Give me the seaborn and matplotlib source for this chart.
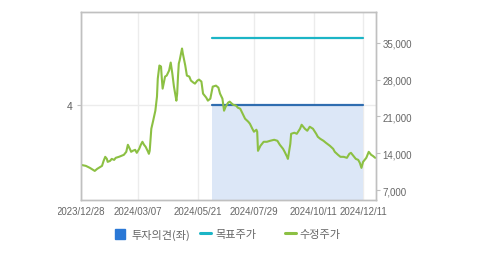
import matplotlib
matplotlib.use("Agg")
import matplotlib.pyplot as plt
import matplotlib.dates as mdates
from matplotlib.lines import Line2D
from matplotlib.transforms import Bbox
import seaborn as sns
import pandas as pd

# ---------------- data ----------------
price_dates = [
    "2023-12-28", "2024-01-03", "2024-01-08", "2024-01-12", "2024-01-14", "2024-01-17", "2024-01-21",
    "2024-01-23", "2024-01-25", "2024-01-27", "2024-01-29", "2024-01-30", "2024-02-02", "2024-02-04",
    "2024-02-07", "2024-02-09", "2024-02-13", "2024-02-16", "2024-02-19", "2024-02-22", "2024-02-24",
    "2024-02-27", "2024-02-28", "2024-03-01", "2024-03-04", "2024-03-06", "2024-03-09", "2024-03-11",
    "2024-03-13", "2024-03-15", "2024-03-17", "2024-03-20", "2024-03-21", "2024-03-22", "2024-03-24",
    "2024-03-26", "2024-03-29", "2024-03-31", "2024-04-01", "2024-04-03", "2024-04-05", "2024-04-06",
    "2024-04-07", "2024-04-10", "2024-04-12", "2024-04-15", "2024-04-17", "2024-04-19", "2024-04-21",
    "2024-04-24", "2024-04-25", "2024-04-26", "2024-04-27", "2024-04-28", "2024-05-01", "2024-05-02",
    "2024-05-05", "2024-05-07", "2024-05-10", "2024-05-12", "2024-05-15", "2024-05-17", "2024-05-20",
    "2024-05-22", "2024-05-25", "2024-05-27", "2024-05-31", "2024-06-02", "2024-06-05", "2024-06-07",
    "2024-06-08", "2024-06-12", "2024-06-15", "2024-06-17", "2024-06-20", "2024-06-22", "2024-06-24",
    "2024-06-27", "2024-06-29", "2024-07-03", "2024-07-07", "2024-07-09", "2024-07-12", "2024-07-15",
    "2024-07-18", "2024-07-22", "2024-07-24", "2024-07-27", "2024-07-29", "2024-08-01", "2024-08-02",
    "2024-08-03", "2024-08-06", "2024-08-10", "2024-08-14", "2024-08-18", "2024-08-23", "2024-08-27",
    "2024-08-30", "2024-09-03", "2024-09-05", "2024-09-08", "2024-09-09", "2024-09-12", "2024-09-13",
    "2024-09-17", "2024-09-20", "2024-09-24", "2024-09-26", "2024-09-30", "2024-10-03", "2024-10-06",
    "2024-10-10", "2024-10-14", "2024-10-16", "2024-10-19", "2024-10-23", "2024-10-26", "2024-10-31",
    "2024-11-04", "2024-11-06", "2024-11-10", "2024-11-13", "2024-11-17", "2024-11-21", "2024-11-24",
    "2024-11-26", "2024-11-29", "2024-12-02", "2024-12-05", "2024-12-07", "2024-12-09", "2024-12-11",
    "2024-12-15", "2024-12-18", "2024-12-21", "2024-12-23", "2024-12-26",
]
price_values = [
    11780, 11590, 11210, 10830, 10630, 11020, 11400,
    11590, 12540, 13310, 12920, 12350, 12540, 12920,
    12730, 13120, 13310, 13500, 13690, 14260, 15600,
    14640, 14260, 14450, 14640, 14070, 14830, 15600,
    16170, 15600, 15210, 14260, 13880, 14450, 18650,
    19980, 22080, 24750, 28190, 30670, 30480, 28190,
    26280, 28570, 28760, 29720, 31240, 29140, 26660,
    23990, 25330, 28570, 31050, 31620, 33910, 32960,
    30670, 28760, 28570, 27810, 27430, 27230, 27810,
    28000, 27620, 25330, 24560, 23990, 24370, 25900,
    26660, 26850, 26470, 25330, 24370, 22080, 22850,
    23610, 23800, 23230, 23040, 22660, 22460, 21510,
    20560, 19980, 19600, 18650, 18080, 18460, 18080,
    14450, 15400, 16170, 16170, 16360, 16550, 16360,
    15600, 14830, 14260, 13310, 12920, 15790, 17690,
    17890, 17690, 18650, 19410, 18650, 18270, 19030,
    18650, 17690, 17120, 16740, 16360, 15980, 15400,
    14830, 14260, 13690, 13310, 13310, 13120, 13880,
    14070, 13500, 12920, 12730, 12160, 11210, 12350,
    13120, 14260, 13690, 13500, 13120,
]
opinion_dates = ["2024-06-07", "2024-12-11"]
opinion_values = [4, 4]
target_dates = ["2024-06-07", "2024-12-11"]
target_values = [36000, 36000]

xtick_dates = ["2023-12-28", "2024-03-07", "2024-05-21", "2024-07-29", "2024-10-11", "2024-12-11"]
xtick_labels = ["2023/12/28", "2024/03/07", "2024/05/21", "2024/07/29", "2024/10/11", "2024/12/11"]
right_ticks = [7000, 14000, 21000, 28000, 35000]
right_labels = ["7,000", "14,000", "21,000", "28,000", "35,000"]
left_ticks = [4]
legend_labels = ["투자의견(좌)", "목표주가", "수정주가"]

# ---------------- style ----------------
sns.set_theme(style="white")
plt.rcParams["font.family"] = ["Noto Sans CJK KR", "DejaVu Sans"]

C_GREEN = "#8cc043"
C_CYAN = "#1cb5c6"
C_BLUE = "#2f6db0"
C_FILL = "#dce7f7"
C_SQUARE = "#2a78d6"
C_SPINE = "#c0c0c0"
C_GRID = "#ececec"
C_TEXT = "#666666"

W, H = 479, 255
price_df = pd.DataFrame({"date": pd.to_datetime(price_dates), "price": price_values})
op_df = pd.DataFrame({"date": pd.to_datetime(opinion_dates), "op": opinion_values})
tg_df = pd.DataFrame({"date": pd.to_datetime(target_dates), "target": target_values})

fig = plt.figure(figsize=(W / 100, H / 100), dpi=100)
ax = fig.add_axes([81 / W, 1 - 201 / H, (376 - 81) / W, (201 - 13) / H])
ax2 = ax.twinx()

# left axis: opinion with shaded area
ax.fill_between(op_df["date"], 0, op_df["op"], color=C_FILL, linewidth=0, zorder=1)
sns.lineplot(data=op_df, x="date", y="op", ax=ax, color=C_BLUE, linewidth=1.6, zorder=3)
ax.set_ylim(0, 7.92)
ax.set_yticks(left_ticks)
ax.set_yticklabels([str(v) for v in left_ticks])

# right axis: target price and adjusted price
sns.lineplot(data=tg_df, x="date", y="target", ax=ax2, color=C_CYAN, linewidth=1.6)
sns.lineplot(data=price_df, x="date", y="price", ax=ax2, color=C_GREEN, linewidth=1.5)
ax2.set_ylim(5100, 40850)
ax2.set_yticks(right_ticks)
ax2.set_yticklabels(right_labels)

xlim = (mdates.date2num(pd.Timestamp("2023-12-28")), mdates.date2num(pd.Timestamp("2024-12-27")))
ax.set_xlim(*xlim)
ax2.set_xlim(*xlim)
ax.set_xticks([mdates.date2num(pd.Timestamp(d)) for d in xtick_dates])
ax.set_xticklabels(xtick_labels)

for a in (ax, ax2):
    a.set_xlabel("")
    a.set_ylabel("")
    for s in a.spines.values():
        s.set_color(C_SPINE)
        s.set_linewidth(1.0)
    a.tick_params(axis="both", colors=C_SPINE, labelcolor=C_TEXT, labelsize=7,
                  length=3, width=0.8, pad=1.5)
ax.tick_params(axis="y", labelsize=7.5, pad=3)

ax.grid(True, axis="both", color=C_GRID, linewidth=1.0)
ax.set_axisbelow(True)
ax2.grid(False)

for lbl in ax.get_xticklabels() + ax2.get_yticklabels():
    lbl.set_fontfamily(["Liberation Sans", "DejaVu Sans"])

# first x label is cut by the chart container on the left
first = ax.get_xticklabels()[0]
first.set_clip_box(Bbox.from_extents(58, 0, W, H))
first.set_clip_on(True)

# legend: three separate items placed like the reference
def add_item(handle, label, x_px, hl, pad):
    fig.legend([handle], [label], loc="center left", bbox_to_anchor=(x_px / W, 1 - 235 / H),
               frameon=False, fontsize=8, handlelength=hl, handletextpad=pad,
               borderpad=0, borderaxespad=0, labelcolor=C_TEXT)

add_item(Line2D([0], [0], marker="s", linestyle="none", markersize=7,
                markerfacecolor=C_SQUARE, markeredgecolor=C_SQUARE),
         legend_labels[0], 116, 0.8, 0.55)
add_item(Line2D([0], [0], color=C_CYAN, linewidth=2.2), legend_labels[1], 200, 1.0, 0.35)
add_item(Line2D([0], [0], color=C_GREEN, linewidth=2.2), legend_labels[2], 285, 1.0, 0.27)

fig.savefig("out.png", dpi=100)
